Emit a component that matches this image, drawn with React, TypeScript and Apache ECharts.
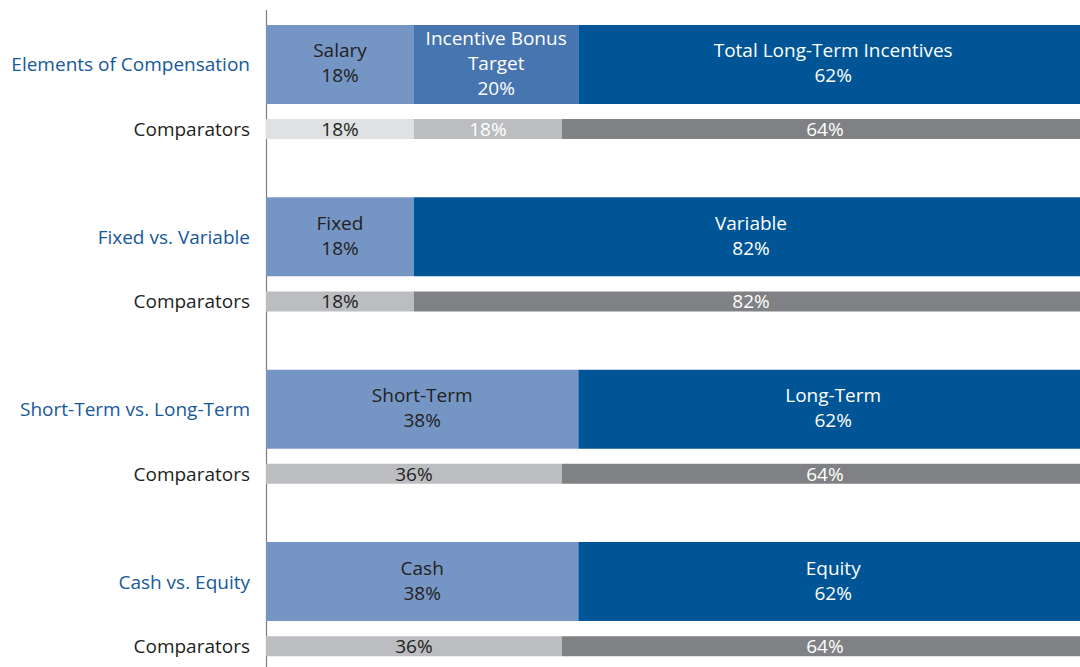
import React, { useEffect, useRef } from "react";
import * as echarts from "echarts";

// ---- Data ----
const groupLabels = [
  "Elements of Compensation",
  "Fixed vs. Variable",
  "Short-Term vs. Long-Term",
  "Cash vs. Equity",
];
const comparatorLabel = "Comparators";
const mainNames = [
  ["Salary", "Incentive Bonus\nTarget", "Total Long-Term Incentives"],
  ["Fixed", "Variable"],
  ["Short-Term", "Long-Term"],
  ["Cash", "Equity"],
];
const mainValues = [
  [18, 20, 62],
  [18, 82],
  [38, 62],
  [38, 62],
];
const compValues = [
  [18, 18, 64],
  [18, 82],
  [36, 64],
  [36, 64],
];

// ---- Layout of category slots ----
const SLOTS_PER_GROUP = 8;
const MAIN_SLOT = 2;
const COMP_SLOT = 5;
const NUM_SLOTS = SLOTS_PER_GROUP * groupLabels.length;
const slots = Array.from({ length: NUM_SLOTS }, (_, i) => "slot" + i);

// ---- Styles ----
const FONT = "'Open Sans', sans-serif";
const BLUE_LIGHT = "#7596c4";
const BLUE_MID = "#4775b0";
const BLUE_DARK = "#005596";
const GRAY_LIGHTEST = "#e0e1e3";
const GRAY_MID = "#bcbdc0";
const GRAY_DARK = "#808184";
const TEXT_DARK = "#231f20";
const LABEL_BLUE = "#17599a";

function mainColor(len: number, k: number) {
  if (k === 0) return BLUE_LIGHT;
  if (k === len - 1) return BLUE_DARK;
  return BLUE_MID;
}
function compColor(len: number, k: number) {
  if (k === len - 1) return GRAY_DARK;
  if (k === 0 && len === 3) return GRAY_LIGHTEST;
  return GRAY_MID;
}

function buildSeries() {
  const series: any[] = [];
  for (let k = 0; k < 3; k++) {
    const mainData = slots.map((_, i) => {
      const g = Math.floor(i / SLOTS_PER_GROUP);
      if (i % SLOTS_PER_GROUP !== MAIN_SLOT) return "-";
      const vals = mainValues[g];
      if (k >= vals.length) return "-";
      return {
        value: vals[k],
        itemStyle: { color: mainColor(vals.length, k) },
        label: {
          formatter: `${mainNames[g][k]}\n${vals[k]}%`,
          color: k === 0 ? TEXT_DARK : "#ffffff",
        },
      };
    });
    series.push({
      type: "bar",
      name: "main" + k,
      stack: "main",
      xAxisIndex: 0,
      yAxisIndex: 0,
      barWidth: 79,
      data: mainData,
      label: {
        show: true,
        position: "inside",
        fontSize: 19,
        lineHeight: 25,
        fontFamily: FONT,
        offset: [0, -1.5],
      },
    });
    const compData = slots.map((_, i) => {
      const g = Math.floor(i / SLOTS_PER_GROUP);
      if (i % SLOTS_PER_GROUP !== COMP_SLOT) return "-";
      const vals = compValues[g];
      if (k >= vals.length) return "-";
      return {
        value: vals[k],
        itemStyle: { color: compColor(vals.length, k) },
        label: {
          formatter: `${vals[k]}%`,
          color: k === 0 ? TEXT_DARK : "#ffffff",
        },
      };
    });
    series.push({
      type: "bar",
      name: "comp" + k,
      stack: "comp",
      xAxisIndex: 0,
      yAxisIndex: 1,
      barWidth: 20,
      data: compData,
      label: {
        show: true,
        position: "inside",
        fontSize: 19,
        lineHeight: 22,
        fontFamily: FONT,
      },
    });
  }
  return series;
}

export default function App() {
  const ref = useRef<HTMLDivElement>(null);
  useEffect(() => {
    if (!ref.current) return;
    const chart = echarts.init(ref.current, undefined, { renderer: "svg" });
    const slotLabel = (i: number) => {
      const g = Math.floor(i / SLOTS_PER_GROUP);
      const r = i % SLOTS_PER_GROUP;
      if (r === MAIN_SLOT) return `{g|${groupLabels[g]}}`;
      if (r === COMP_SLOT) return `{c|${comparatorLabel}}`;
      return "";
    };
    chart.setOption({
      animation: false,
      grid: { left: 266, right: 2, top: 10.6, bottom: 1, containLabel: false },
      xAxis: { type: "value", min: 0, max: 100, show: false },
      yAxis: [
        {
          type: "category",
          data: slots,
          inverse: true,
          axisLine: { show: true, lineStyle: { color: "#7d7d7d", width: 1.2 } },
          axisTick: { show: false },
          splitLine: { show: false },
          axisLabel: {
            interval: 0,
            margin: 16,
            formatter: (_v: string, i: number) => slotLabel(i),
            rich: {
              g: { color: LABEL_BLUE, fontSize: 19, fontFamily: FONT },
              c: { color: TEXT_DARK, fontSize: 19, fontFamily: FONT },
            },
          },
        },
        {
          type: "category",
          data: slots,
          inverse: true,
          show: false,
        },
      ],
      series: buildSeries(),
    });
    return () => chart.dispose();
  }, []);
  return (
    <div
      style={{ position: "absolute", left: 0, top: 0, width: 1080, height: 667, overflow: "hidden", background: "#ffffff" }}
    >
      <div ref={ref} style={{ width: 1090, height: 701 }} />
    </div>
  );
}
